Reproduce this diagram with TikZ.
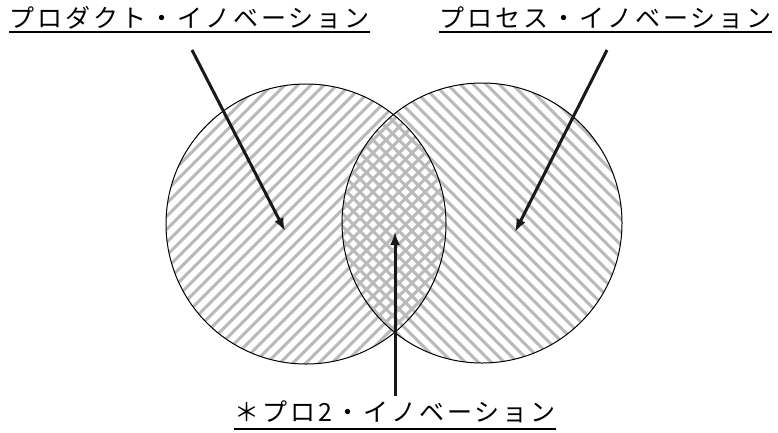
\documentclass[tikz,border=0pt]{standalone}
\usepackage{fontspec}
\newfontfamily\jp[LetterSpace=12]{Noto Sans CJK JP}
\usetikzlibrary{arrows.meta}
\tikzset{
  hatch/.style={draw=black!27, line width=3pt},
  ring/.style={draw=black, line width=1pt},
  pointer/.style={draw=black!90, line width=3pt, -{Latex[length=13pt,width=10pt]}},
  lbl/.style={inner sep=0pt, anchor=base west, font=\jp\fontsize{25}{30}\selectfont},
  uline/.style={draw=black, line width=2.8pt}
}
\begin{document}
\begin{tikzpicture}[x=1pt,y=-1pt]
\useasboundingbox (0,0) rectangle (778,432);
\coordinate (cl) at (306,224);
\coordinate (cr) at (482,223);
% left hatch "/"
\begin{scope}
  \clip (cl) circle[radius=140];
  \foreach \c in {240,253,...,830} {
    \draw[hatch] (\c-400,400) -- (\c,0);
  }
\end{scope}
% right hatch "\"
\begin{scope}
  \clip (cr) circle[radius=140];
  \foreach \c in {-40,-27,...,560} {
    \draw[hatch] (\c,0) -- (\c+400,400);
  }
\end{scope}
\draw[ring] (cl) circle[radius=140];
\draw[ring] (cr) circle[radius=140];
% labels
\node[lbl] (tl) at (9,27) {プロダクト・イノベーション};
\node[lbl] (tr) at (439,27) {プロセス・イノベーション};
\node[lbl] (bt) at (234,421) {＊プロ2・イノベーション};
\draw[uline] ([yshift=-5pt]tl.base west) -- ([yshift=-5pt]tl.base east);
\draw[uline] ([yshift=-5pt]tr.base west) -- ([yshift=-5pt]tr.base east);
\draw[uline] ([yshift=-8pt]bt.base west) -- ([yshift=-8pt]bt.base east);
% arrows
\coordinate (a1s) at (192,50);
\coordinate (a1e) at (285,231);
\coordinate (a2s) at (607,50);
\coordinate (a2e) at (515,232);
\coordinate (a3s) at (395,396);
\coordinate (a3e) at (395,232);
\draw[pointer] (a1s) -- (a1e);
\draw[pointer] (a2s) -- (a2e);
\draw[pointer] (a3s) -- (a3e);
\end{tikzpicture}
\end{document}
